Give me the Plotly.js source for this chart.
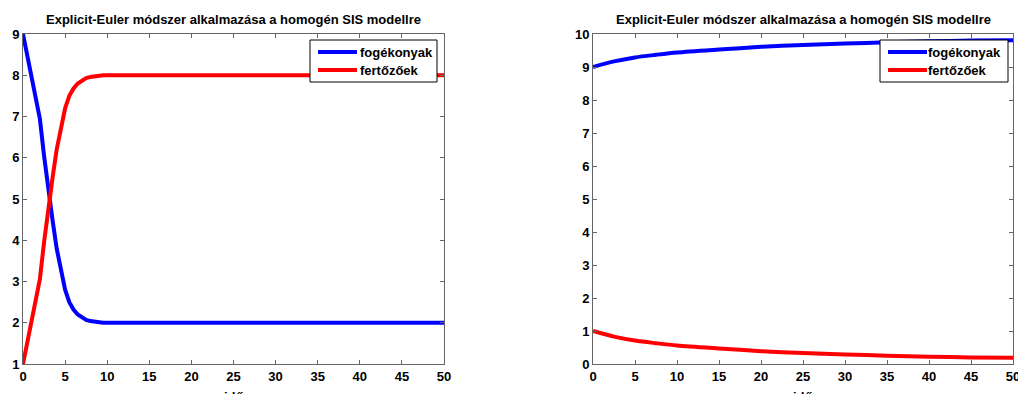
<!DOCTYPE html>
<html>
<head>
<meta charset="utf-8">
<script src="https://cdn.plot.ly/plotly-3.0.1.min.js"></script>
<style>html,body{margin:0;padding:0;background:#fff;}#chart{width:1018px;height:394px;}</style>
</head>
<body>
<div id="chart"></div>
<script>
// Left panel: idő (time) and values
const tLeft = [0, 0.5, 1, 1.5, 2, 2.5, 3, 3.5, 4, 4.5, 5, 5.5, 6, 6.5, 7, 7.5, 8, 8.5, 9, 9.5, 10, 15, 20, 25, 30, 35, 40, 45, 50];
const susLeft = [9.0, 8.5, 8.05, 7.55, 6.95, 6.05, 5.2, 4.5, 3.8, 3.25, 2.8, 2.5, 2.32, 2.2, 2.12, 2.07, 2.04, 2.02, 2.01, 2.0, 2.0, 2.0, 2.0, 2.0, 2.0, 2.0, 2.0, 2.0, 2.0];
const infLeft = [1.0, 1.5, 1.95, 2.45, 3.05, 3.95, 4.8, 5.5, 6.2, 6.75, 7.2, 7.5, 7.68, 7.8, 7.88, 7.93, 7.96, 7.98, 7.99, 8.0, 8.0, 8.0, 8.0, 8.0, 8.0, 8.0, 8.0, 8.0, 8.0];

// Right panel
const tRight = [0, 2.5, 5, 7.5, 10, 15, 20, 25, 30, 35, 40, 45, 50];
const susRight = [9.0, 9.17, 9.29, 9.37, 9.44, 9.53, 9.61, 9.67, 9.71, 9.75, 9.78, 9.8, 9.81];
const infRight = [1.0, 0.83, 0.71, 0.63, 0.56, 0.47, 0.39, 0.33, 0.29, 0.25, 0.22, 0.2, 0.19];

const names = ['fogékonyak', 'fertőzőek'];
const colors = ['#0000ff', '#ff0000'];
const titleText = 'Explicit-Euler módszer alkalmazása a homogén SIS modellre';
const xLabel = 'idő';

const FONT = 'Liberation Sans, Arial, sans-serif';
const LW = 4;
const W = 1018, TOP = 34, BOT = 364, PH = BOT - TOP;
const px2x = p => p / W;
const px2y = p => (BOT - p) / PH;

const traces = [
  {x: tLeft, y: susLeft, name: names[0], mode: 'lines', line: {color: colors[0], width: LW}, xaxis: 'x', yaxis: 'y'},
  {x: tLeft, y: infLeft, name: names[1], mode: 'lines', line: {color: colors[1], width: LW}, xaxis: 'x', yaxis: 'y'},
  {x: tRight, y: susRight, name: names[0], mode: 'lines', line: {color: colors[0], width: LW, shape: 'spline', smoothing: 0.8}, xaxis: 'x2', yaxis: 'y2'},
  {x: tRight, y: infRight, name: names[1], mode: 'lines', line: {color: colors[1], width: LW, shape: 'spline', smoothing: 0.8}, xaxis: 'x2', yaxis: 'y2'}
];

const boldFont = (s) => ({family: FONT, size: s, color: '#000', weight: 'bold'});
function axisBase(extra) {
  return Object.assign({
    showgrid: false, zeroline: false, showline: true, linecolor: '#666', linewidth: 1,
    mirror: 'ticks', ticks: 'inside', ticklen: 4, tickcolor: '#666', tickwidth: 1,
    tickfont: boldFont(13), fixedrange: true, ticklabeloverflow: 'allow'
  }, extra);
}

// Custom legend boxes (drawn over the plot like the original)
const shapes = [];
const annotations = [];
function addLegend(boxL, boxR, lineL, lineR, textX) {
  shapes.push({type: 'rect', xref: 'paper', yref: 'paper', x0: px2x(boxL), x1: px2x(boxR), y0: px2y(82), y1: px2y(40),
    line: {color: '#000', width: 1}, fillcolor: '#fff', layer: 'above'});
  [52, 70].forEach((py, i) => {
    shapes.push({type: 'line', xref: 'paper', yref: 'paper', x0: px2x(lineL), x1: px2x(lineR), y0: px2y(py), y1: px2y(py),
      line: {color: colors[i], width: LW}, layer: 'above'});
    annotations.push({text: names[i], xref: 'paper', yref: 'paper', x: px2x(textX), y: px2y(py), xanchor: 'left', yanchor: 'middle',
      showarrow: false, font: boldFont(13)});
  });
}
addLegend(310, 437, 318, 357, 358);
addLegend(880, 1008, 888, 927, 926);

[[23, 444], [593, 1013]].forEach(([a, b]) => {
  annotations.push({text: titleText, xref: 'paper', yref: 'paper', x: px2x((a + b) / 2), y: px2y(19), xanchor: 'center', yanchor: 'middle', showarrow: false, font: boldFont(13)});
  annotations.push({text: xLabel, xref: 'paper', yref: 'paper', x: px2x((a + b) / 2), y: px2y(387), xanchor: 'center', yanchor: 'top', showarrow: false, font: boldFont(13)});
});

const layout = {
  width: 1018, height: 394,
  margin: {l: 0, r: 0, t: TOP, b: 394 - BOT, pad: 0},
  paper_bgcolor: '#fff', plot_bgcolor: '#fff',
  showlegend: false,
  xaxis: axisBase({domain: [23/W, 444/W], range: [0, 50], dtick: 5, anchor: 'y'}),
  yaxis: axisBase({domain: [0, 1], range: [1, 9], dtick: 1, anchor: 'x'}),
  xaxis2: axisBase({domain: [593/W, 1013/W], range: [0, 50], dtick: 5, anchor: 'y2'}),
  yaxis2: axisBase({domain: [0, 1], range: [0, 10], dtick: 1, anchor: 'x2'}),
  shapes: shapes,
  annotations: annotations
};

Plotly.newPlot('chart', traces, layout, {displayModeBar: false, staticPlot: true});
</script>
</body>
</html>
